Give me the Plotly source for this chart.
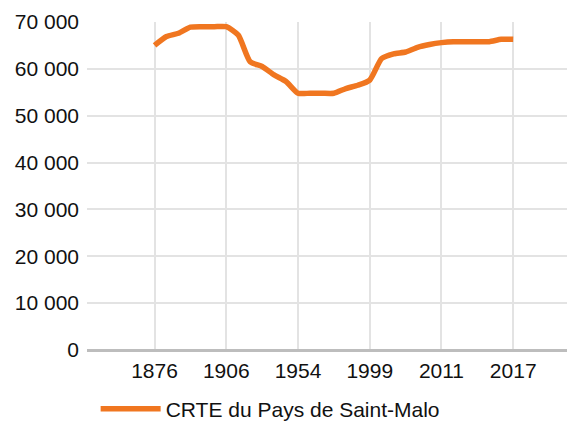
import plotly.graph_objects as go

years = ["1876", "1881", "1886", "1891", "1896", "1901", "1906",
         "1911", "1921", "1926", "1931", "1946", "1954",
         "1962", "1968", "1975", "1982", "1990", "1999",
         "2006", "2007", "2008", "2009", "2010", "2011",
         "2012", "2013", "2014", "2015", "2016", "2017"]

population = [65000, 66900, 67600, 68900, 69000, 69000, 69000,
              67200, 61500, 60500, 58700, 57300, 54800,
              54800, 54800, 54800, 55800, 56500, 57600,
              62200, 63200, 63600, 64600, 65200, 65600,
              65800, 65800, 65800, 65800, 66300, 66300]

tick_years = ["1876", "1906", "1954", "1999", "2011", "2017"]
y_ticks = [0, 10000, 20000, 30000, 40000, 50000, 60000, 70000]
y_labels = ["0", "10 000", "20 000", "30 000", "40 000", "50 000", "60 000", "70 000"]
series_name = "CRTE du Pays de Saint-Malo"

fig = go.Figure()
fig.add_trace(go.Scatter(
    x=years, y=population, mode="lines", name=series_name,
    line=dict(color="#f07620", width=5.5, shape="spline", smoothing=0.6),
    showlegend=True,
))

font_family = "Liberation Sans, Arial, sans-serif"
fig.update_layout(
    width=567, height=423,
    margin=dict(l=87, r=0, t=22, b=73, autoexpand=False),
    paper_bgcolor="white", plot_bgcolor="white",
    font=dict(family=font_family, size=21, color="#111"),
    showlegend=True,
    legend=dict(orientation="h", x=0.018, xanchor="left", y=-0.118, yanchor="top",
                font=dict(size=21, color="#111"), itemwidth=60),
    xaxis=dict(type="category", tickmode="array", tickvals=tick_years, ticktext=tick_years,
               range=[-5.65, 34.5], showgrid=True, gridcolor="#e3e3e3", gridwidth=1.5,
               showline=False, zeroline=False, ticks="", automargin=False,
               ticklabelstandoff=6, tickfont=dict(size=21, color="#111")),
    yaxis=dict(range=[0, 70000], tickmode="array", tickvals=y_ticks, ticktext=y_labels,
               showgrid=True, gridcolor="#e3e3e3", gridwidth=1.5,
               zeroline=True, zerolinecolor="#bdbdbd", zerolinewidth=3,
               showline=False, ticks="", ticklabelstandoff=7, automargin=False,
               tickfont=dict(size=21, color="#111")),
)

fig.write_html(
    "out.html",
    config={"displayModeBar": False},
    post_script="document.body.style.margin='0px';document.body.style.overflow='hidden';",
)
